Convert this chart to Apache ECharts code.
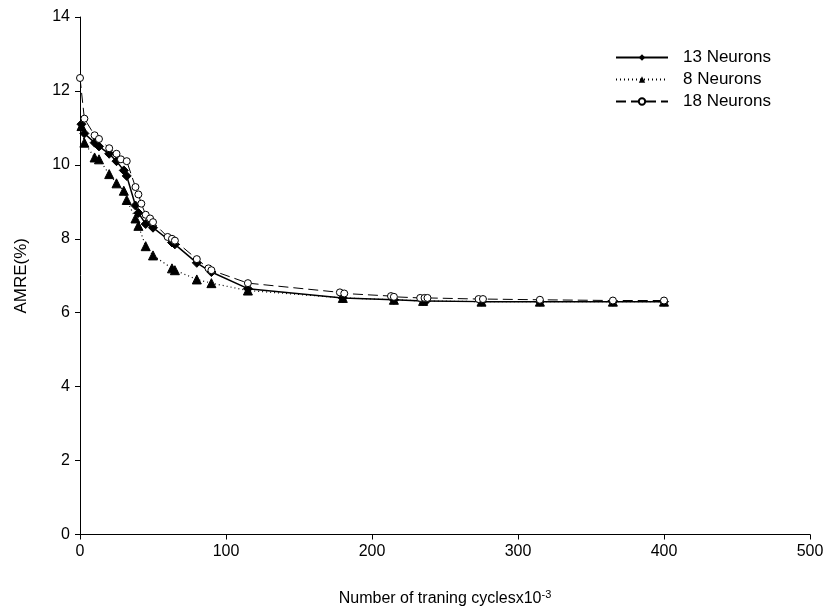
<!DOCTYPE html>
<html>
<head>
<meta charset="utf-8">
<script src="https://cdn.jsdelivr.net/npm/echarts@6/dist/echarts.min.js"></script>
<style>
  html, body { margin: 0; padding: 0; background: #fff; }
  #chart { width: 828px; height: 612px; }
</style>
</head>
<body>
<div id="chart"></div>
<script>
// values
var n13 = [
  [1, 11.1], [3, 10.85], [10, 10.6], [13, 10.5], [20, 10.3], [25, 10.1], [30, 9.85], [32, 9.7],
  [38, 8.9], [40, 8.7], [45, 8.4], [50, 8.3], [63, 7.9], [65, 7.85], [80, 7.35], [90, 7.1],
  [115, 6.65], [180, 6.4], [215, 6.35], [235, 6.32], [237, 6.32], [275, 6.3], [315, 6.3],
  [365, 6.3], [400, 6.3]
];
var n8 = [
  [1, 11.05], [3, 10.6], [10, 10.2], [13, 10.15], [20, 9.75], [25, 9.5], [30, 9.3], [32, 9.05],
  [38, 8.55], [40, 8.35], [45, 7.8], [50, 7.55], [63, 7.2], [65, 7.15], [80, 6.9], [90, 6.8],
  [115, 6.6], [180, 6.4], [215, 6.35], [235, 6.32], [275, 6.3], [315, 6.3], [365, 6.3], [400, 6.3]
];
var n18 = [
  [0, 12.35], [3, 11.25], [10, 10.8], [13, 10.7], [20, 10.45], [25, 10.3], [28, 10.15], [32, 10.1],
  [38, 9.4], [40, 9.2], [42, 8.95], [45, 8.65], [48, 8.55], [50, 8.45], [60, 8.05], [63, 8.0],
  [65, 7.95], [80, 7.45], [88, 7.2], [90, 7.15], [115, 6.8], [178, 6.55], [181, 6.52], [213, 6.45],
  [215, 6.43], [233, 6.4], [236, 6.4], [238, 6.4], [273, 6.37], [276, 6.37], [315, 6.35],
  [365, 6.33], [400, 6.33]
];

var font = 'Liberation Sans, Arial, sans-serif';
var chart = echarts.init(document.getElementById('chart'));

chart.setOption({
  backgroundColor: '#fff',
  animation: false,
  textStyle: { fontFamily: font, color: '#000' },
  grid: { left: 80, right: 18, top: 17, bottom: 67 },
  legend: {
    left: 610, top: 44, orient: 'vertical', itemGap: 5, itemWidth: 52, itemHeight: 8,
    textStyle: { fontSize: 17, lineHeight: 17, color: '#000', fontFamily: font, padding: [0, 0, 0, 10] },
    data: ['13 Neurons', '8 Neurons', '18 Neurons']
  },
  xAxis: {
    type: 'value', min: 0, max: 500, interval: 100,
    name: '{a|Number of traning cyclesx10}{b|-3}',
    nameLocation: 'middle', nameGap: 55,
    nameTextStyle: {
      rich: {
        a: { fontSize: 16, fontFamily: font, color: '#000' },
        b: { fontSize: 11, fontFamily: font, color: '#000', verticalAlign: 'top', padding: [0, 0, 8, 0] }
      }
    },
    axisLine: { lineStyle: { color: '#000', width: 1 } },
    axisTick: { inside: false, length: 5, lineStyle: { color: '#000' } },
    axisLabel: { fontSize: 16, color: '#000', margin: 9 },
    splitLine: { show: false }
  },
  yAxis: {
    type: 'value', min: 0, max: 14, interval: 2,
    name: 'AMRE(%)', nameLocation: 'middle', nameGap: 50,
    nameTextStyle: { fontSize: 17, color: '#000' },
    axisLine: { show: true, lineStyle: { color: '#000', width: 1 } },
    axisTick: { show: true, inside: false, length: 5, lineStyle: { color: '#000' } },
    axisLabel: { fontSize: 16, color: '#000', margin: 10 },
    splitLine: { show: false }
  },
  series: [
    {
      name: '13 Neurons', type: 'line', data: n13, symbol: 'diamond', symbolSize: 9,
      lineStyle: { color: '#000', width: 1.5, type: 'solid' },
      itemStyle: { color: '#000', borderColor: '#000' }, z: 3
    },
    {
      name: '8 Neurons', type: 'line', data: n8, symbol: 'triangle', symbolSize: 9,
      lineStyle: { color: '#000', width: 1.2, type: [1, 3] },
      itemStyle: { color: '#000', borderColor: '#000' }, z: 2
    },
    {
      name: '18 Neurons', type: 'line', data: n18, symbol: 'circle', symbolSize: 7,
      lineStyle: { color: '#000', width: 1, type: [10, 5] },
      itemStyle: { color: '#fff', borderColor: '#000', borderWidth: 1 }, z: 4
    }
  ]
});
</script>
</body>
</html>
